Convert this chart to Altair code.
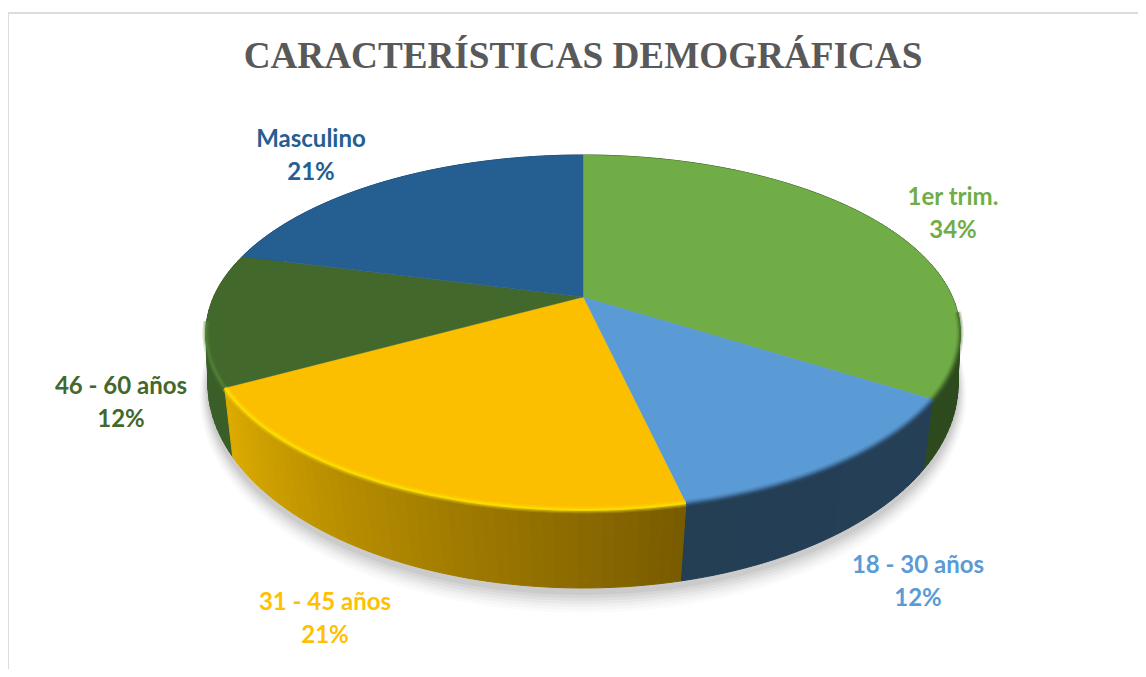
import math
import altair as alt

TITLE = "CARACTERÍSTICAS DEMOGRÁFICAS"
categories = ["1er trim.", "18 - 30 años", "31 - 45 años", "46 - 60 años", "Masculino"]
values = [34, 12.4, 20.6, 12, 21]
top_colors = ["#70ad47", "#5b9bd5", "#fcbf00", "#43682b", "#255e91"]
label_colors = ["#70ad47", "#5b9bd5", "#ffc000", "#43682b", "#255e91"]
wall_start = ["#2d4a1e", "#253f57", "#7a5c00", "#3a5e27", "#1a4368"]
wall_end = ["#2d4a1e", "#243e54", "#dcab00", "#3a5e27", "#1a4368"]
rim_colors = ["#466f2c", "#3c6a96", "#ffe600", "#548338", "#255e91"]
rim_from = [95, None, None, None, None]
rim_to = [None, None, None, 262, 272]
label_x = [945, 910, 317, 113, 303]
label_y = [190, 558, 595, 379, 132]

W, H = 1130, 661
OX, OY = 8, 8


def project(theta, cx, cy, a, b, k):
    u, v = math.sin(theta), math.cos(theta)
    d = 1 + k * v
    return [cx - OX + b * u / d, cy - OY - a * v / d]


def top(theta):
    return project(theta, 583, 297, 170.4, 369.4, 0.2)


def bottom(theta):
    return project(theta, 583, 353.4, 199.4, 370.8, 0.15)


def frange(a, b, n):
    return [a + (b - a) * i / n for i in range(n + 1)]


def hexmix(c1, c2, t):
    p = [int(c1[i:i + 2], 16) for i in (1, 3, 5)]
    q = [int(c2[i:i + 2], 16) for i in (1, 3, 5)]
    return "#%02x%02x%02x" % tuple(round(x + (y - x) * t) for x, y in zip(p, q))


total = sum(values)
edges = [0.0]
for val in values:
    edges.append(edges[-1] + 2 * math.pi * val / total)


def poly(ring, **props):
    return {"type": "Feature", "properties": props,
            "geometry": {"type": "Polygon", "coordinates": [ring + [ring[0]]]}}


def line(coords, **props):
    return {"type": "Feature", "properties": props,
            "geometry": {"type": "LineString", "coordinates": coords}}


proj = alt.Projection(type="identity", scale=1, translate=[0, 0])
layers = []

# soft shadow under the pie
for grow, op in zip([22, 19, 16, 13, 10, 7, 4], [0.015, 0.02, 0.025, 0.03, 0.035, 0.04, 0.05]):
    ring = []
    for t in frange(0, 2 * math.pi, 120):
        x, y = bottom(t)
        ring.append([x + grow * 0.4 * math.sin(t), y + 3 + grow * (0.3 + 0.7 * max(0, -math.cos(t)))])
    layers.append(alt.Chart(alt.Data(values=[poly(ring[:-1])])).mark_geoshape(
        fill="#000000", fillOpacity=op, stroke=None))

# side wall, one thin strip per step, back to front
wall_features = []
for i in [4, 0, 3, 1, 2]:
    a, b = edges[i], edges[i + 1]
    steps = max(8, int((b - a) / math.radians(1.5)))
    grid = frange(a, b, steps)
    for s in range(steps):
        t1, t2 = grid[s], grid[s + 1]
        col = hexmix(wall_start[i], wall_end[i], s / max(steps - 1, 1))
        wall_features.append(poly([top(t1), top(t2), bottom(t2), bottom(t1)], fill=col))
layers.append(alt.Chart(alt.Data(values=wall_features)).mark_geoshape(strokeWidth=1).encode(
    fill=alt.Fill("properties.fill:N", scale=None),
    stroke=alt.Stroke("properties.fill:N", scale=None),
))

# top faces
apex = project(0, 583, 297, 0, 0, 0)
for i in range(5):
    ring = [apex] + [top(t) for t in frange(edges[i], edges[i + 1], 80)]
    layers.append(alt.Chart(alt.Data(values=[poly(ring)])).mark_geoshape(
        fill=top_colors[i], stroke=top_colors[i], strokeWidth=0.4))

# bevel along the rim
for i in range(4):
    a = math.radians(rim_from[i]) if rim_from[i] else edges[i]
    b = math.radians(rim_to[i]) if rim_to[i] else edges[i + 1]
    coords = [top(t) for t in frange(a, b, 80)]
    for width, op in [(7, 0.2), (4.5, 0.3), (2, 0.7)]:
        layers.append(alt.Chart(alt.Data(values=[line(coords)])).mark_geoshape(
            filled=False, fill=None, stroke=rim_colors[i], strokeWidth=width,
            strokeOpacity=op, strokeCap="butt"))

# frame
layers.append(alt.Chart().mark_rule(color="#dcdcdc", strokeWidth=2).encode(
    x=alt.value(0), x2=alt.value(W), y=alt.value(5)))
layers.append(alt.Chart().mark_rule(color="#dcdcdc", strokeWidth=2).encode(
    x=alt.value(0), y=alt.value(5), y2=alt.value(H)))

# data labels
for name, val, col, lx, ly in zip(categories, values, label_colors, label_x, label_y):
    pct = f"{round(val)}%"
    layers.append(alt.Chart(alt.Data(values=[{"t": f"{name}\n{pct}"}])).mark_text(
        font="Lato", fontWeight="bold", fontSize=24, color=col, lineBreak="\n",
        lineHeight=32.5, align="center", baseline="middle").encode(
        text="t:N", x=alt.value(lx), y=alt.value(ly)))

chart = alt.layer(*layers).properties(
    width=W, height=H, padding=0,
    autosize=alt.AutoSizeParams(type="none"),
    projection=proj,
    background="white",
    title=alt.TitleParams(TITLE, font="Liberation Serif", fontWeight="bold", fontSize=37.2,
                          color="#595959", anchor="middle", offset=-97, dx=10, baseline="alphabetic"),
).configure_view(stroke=None)

chart.save("out.html", embed_options={"renderer": "svg", "actions": False})
